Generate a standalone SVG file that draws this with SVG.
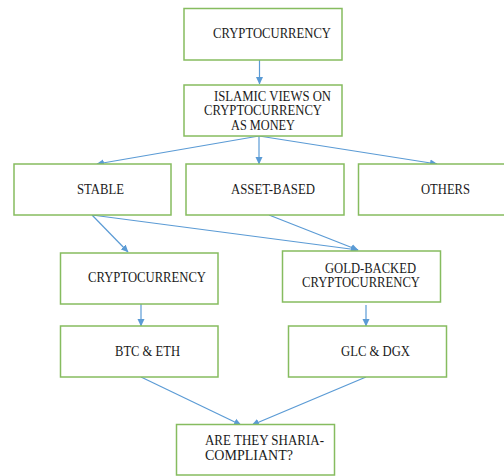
<svg xmlns="http://www.w3.org/2000/svg" width="504" height="476" viewBox="0 0 504 476">
<style>
.box{fill:#fff;stroke:#86bc5f;stroke-width:1.5}
.t{font-family:'Liberation Serif','Times New Roman',serif;font-size:14px;fill:#1a1a1a}
.c{fill:none;stroke:#5b9bd5;stroke-width:1.2}
</style>
<defs>
<marker id="ah" markerWidth="8" markerHeight="8" refX="7" refY="4" orient="auto" markerUnits="userSpaceOnUse">
<path d="M0,0.5 L7.5,4 L0,7.5 Z" fill="#5b9bd5"/>
</marker>
</defs>
<rect width="504" height="476" fill="#fff"/>
<g id="connectors">
<line class="c" x1="259.5" y1="60" x2="259.5" y2="84" marker-end="url(#ah)"/>
<line class="c" x1="259" y1="136" x2="97" y2="164" marker-end="url(#ah)"/>
<line class="c" x1="259" y1="136" x2="259" y2="164" marker-end="url(#ah)"/>
<line class="c" x1="259" y1="136" x2="437" y2="164" marker-end="url(#ah)"/>
<line class="c" x1="92" y1="215" x2="128" y2="252" marker-end="url(#ah)"/>
<line class="c" x1="92" y1="215" x2="358" y2="250" marker-end="url(#ah)"/>
<line class="c" x1="269" y1="215" x2="358" y2="250" marker-end="url(#ah)"/>
<line class="c" x1="141" y1="304" x2="141" y2="326" marker-end="url(#ah)"/>
<line class="c" x1="366" y1="305" x2="366" y2="326" marker-end="url(#ah)"/>
<line class="c" x1="141" y1="377" x2="241" y2="425" marker-end="url(#ah)"/>
<line class="c" x1="366" y1="377" x2="252" y2="425" marker-end="url(#ah)"/>
</g>
<g id="n1"><rect class="box" x="184" y="8.5" width="158" height="51.5"/>
<text class="t" x="213" y="37.5" textLength="118" lengthAdjust="spacingAndGlyphs">CRYPTOCURRENCY</text></g>
<g id="n2"><rect class="box" x="184" y="85" width="158" height="51"/>
<text class="t" x="214" y="101" textLength="117" lengthAdjust="spacingAndGlyphs">ISLAMIC VIEWS ON</text>
<text class="t" x="204" y="115" textLength="118" lengthAdjust="spacingAndGlyphs">CRYPTOCURRENCY</text>
<text class="t" x="231" y="129.5" textLength="64" lengthAdjust="spacingAndGlyphs">AS MONEY</text></g>
<g id="n3"><rect class="box" x="14" y="164" width="157" height="51"/>
<text class="t" x="77" y="193.5" textLength="47" lengthAdjust="spacingAndGlyphs">STABLE</text></g>
<g id="n4"><rect class="box" x="186" y="164" width="158" height="51"/>
<text class="t" x="231" y="193.5" textLength="84" lengthAdjust="spacingAndGlyphs">ASSET-BASED</text></g>
<g id="n5"><rect class="box" x="358.5" y="164" width="160" height="51"/>
<text class="t" x="421" y="193.5" textLength="49" lengthAdjust="spacingAndGlyphs">OTHERS</text></g>
<g id="n6"><rect class="box" x="60.5" y="253" width="157.5" height="51"/>
<text class="t" x="88" y="282" textLength="118" lengthAdjust="spacingAndGlyphs">CRYPTOCURRENCY</text></g>
<g id="n7"><rect class="box" x="282.5" y="251" width="158" height="51"/>
<text class="t" x="325" y="272.5" textLength="91" lengthAdjust="spacingAndGlyphs">GOLD-BACKED</text>
<text class="t" x="302" y="287" textLength="118" lengthAdjust="spacingAndGlyphs">CRYPTOCURRENCY</text></g>
<g id="n8"><rect class="box" x="60.5" y="326" width="157.5" height="51"/>
<text class="t" x="115" y="355.5" textLength="65" lengthAdjust="spacingAndGlyphs">BTC &amp; ETH</text></g>
<g id="n9"><rect class="box" x="288.5" y="326" width="158" height="51"/>
<text class="t" x="341" y="355.5" textLength="69" lengthAdjust="spacingAndGlyphs">GLC &amp; DGX</text></g>
<g id="n10"><rect class="box" x="176.5" y="424.5" width="158" height="50.5"/>
<text class="t" x="205" y="445" textLength="119" lengthAdjust="spacingAndGlyphs">ARE THEY SHARIA-</text>
<text class="t" x="205" y="459.5" textLength="88" lengthAdjust="spacingAndGlyphs">COMPLIANT?</text></g>
</svg>
